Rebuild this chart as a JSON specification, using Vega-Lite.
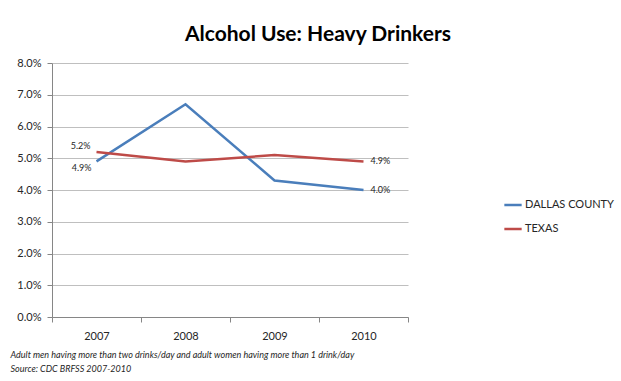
{
  "$schema": "https://vega.github.io/schema/vega-lite/v6.json",
  "autosize": {"type": "none"},
  "width": 356,
  "height": 254,
  "padding": {"left": 52, "top": 63, "right": 213, "bottom": 64},
  "background": "white",
  "config": {
    "font": "Lato",
    "view": {"stroke": null}
  },
  "title": {
    "text": "Alcohol Use: Heavy Drinkers",
    "fontSize": 21,
    "fontWeight": "bold",
    "font": "Lato",
    "color": "#000000",
    "anchor": "middle",
    "dx": 88,
    "dy": 28,
    "baseline": "alphabetic",
    "offset": 23
  },
  "data": {
    "values": [
      {"year": "2007", "series": "DALLAS COUNTY", "value": 0.049},
      {"year": "2008", "series": "DALLAS COUNTY", "value": 0.067},
      {"year": "2009", "series": "DALLAS COUNTY", "value": 0.043},
      {"year": "2010", "series": "DALLAS COUNTY", "value": 0.040},
      {"year": "2007", "series": "TEXAS", "value": 0.052},
      {"year": "2008", "series": "TEXAS", "value": 0.049},
      {"year": "2009", "series": "TEXAS", "value": 0.051},
      {"year": "2010", "series": "TEXAS", "value": 0.049}
    ]
  },
  "encoding": {
    "x": {
      "field": "year",
      "type": "ordinal",
      "scale": {"paddingInner": 0, "paddingOuter": 0},
      "axis": {
        "title": ["Adult men having more than two drinks/day and adult women having more than 1 drink/day", "Source: CDC BRFSS 2007-2010"],
        "titleFontSize": 9,
        "titleFontStyle": "italic",
        "titleFontWeight": "normal",
        "titleColor": "#262626",
        "titleAnchor": "start",
        "titleAlign": "left",
        "titleBaseline": "alphabetic",
        "titleX": -42,
        "titleY": 40,
        "titleLineHeight": 14,
        "labelAngle": 0,
        "labelFontSize": 11,
        "labelColor": "#262626",
        "labelPadding": 8,
        "tickBand": "extent",
        "tickSize": 5,
        "tickColor": "#868686",
        "domainColor": "#868686",
        "grid": false
      }
    },
    "y": {
      "field": "value",
      "type": "quantitative",
      "scale": {"domain": [0, 0.08], "nice": false},
      "axis": {
        "title": null,
        "format": ".1%",
        "values": [0, 0.01, 0.02, 0.03, 0.04, 0.05, 0.06, 0.07, 0.08],
        "labelOverlap": false,
        "labelFontSize": 11,
        "labelColor": "#262626",
        "labelPadding": 6,
        "tickSize": 5,
        "tickColor": "#868686",
        "domainColor": "#868686",
        "gridColor": "#BFBFBF",
        "gridWidth": 1
      }
    }
  },
  "layer": [
    {
      "mark": {"type": "line", "strokeWidth": 2.5},
      "encoding": {
        "color": {
          "field": "series",
          "type": "nominal",
          "scale": {"domain": ["DALLAS COUNTY", "TEXAS"], "range": ["#4A7EBB", "#BE4B48"]},
          "legend": {
            "title": null,
            "orient": "none",
            "legendX": 451,
            "legendY": 132,
            "symbolType": "stroke",
            "symbolStrokeWidth": 2.5,
            "symbolSize": 300,
            "labelFontSize": 11,
            "labelColor": "#262626",
            "labelOffset": 2,
            "rowPadding": 9
          }
        }
      }
    },
    {
      "transform": [{"filter": "datum.year == '2007' && datum.series == 'TEXAS'"}],
      "mark": {"type": "text", "align": "right", "dx": -6, "dy": -6, "fontSize": 9, "color": "#262626"},
      "encoding": {"text": {"field": "value", "type": "quantitative", "format": ".1%"}}
    },
    {
      "transform": [{"filter": "datum.year == '2007' && datum.series == 'DALLAS COUNTY'"}],
      "mark": {"type": "text", "align": "right", "dx": -5, "dy": 7, "fontSize": 9, "color": "#262626"},
      "encoding": {"text": {"field": "value", "type": "quantitative", "format": ".1%"}}
    },
    {
      "transform": [{"filter": "datum.year == '2010'"}],
      "mark": {"type": "text", "align": "left", "dx": 7, "dy": 0, "fontSize": 9, "color": "#262626"},
      "encoding": {"text": {"field": "value", "type": "quantitative", "format": ".1%"}}
    }
  ]
}
